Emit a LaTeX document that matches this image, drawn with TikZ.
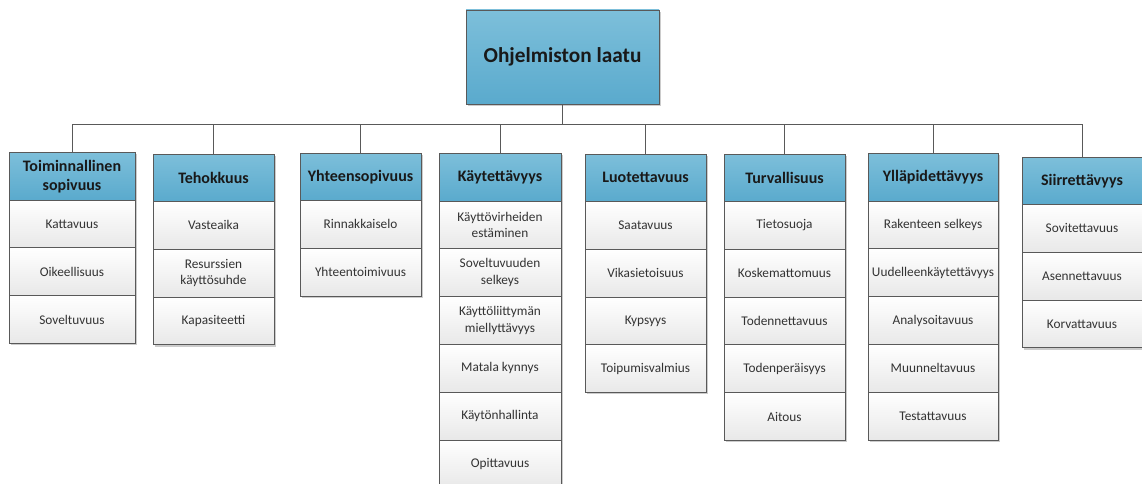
\documentclass[tikz,border=0pt]{standalone}
\usepackage{fontspec}
\setmainfont{Carlito}
\usetikzlibrary{shadows}

\definecolor{edge}{HTML}{595959}
\definecolor{headtop}{HTML}{7DBFDA}
\definecolor{headbot}{HTML}{5AAACD}
\definecolor{cellbot}{HTML}{E8E8E8}
\definecolor{celltext}{HTML}{333333}

\tikzset{
  box/.style={draw=edge, line width=0.9pt, inner sep=1pt, outer sep=0pt, align=center, anchor=north,
    general shadow={fill=black!20, shadow xshift=1.6pt, shadow yshift=-1.6pt}},
  headbox/.style={box, top color=headtop, bottom color=headbot, minimum height=47.5pt,
    font=\bfseries\fontsize{16}{19}\selectfont, text=black!90},
  cellbox/.style={box, top color=white, bottom color=cellbot, minimum height=47.8pt,
    font=\fontsize{13.3}{16.5}\selectfont, text=celltext},
  titlebox/.style={box, top color=headtop, bottom color=headbot, minimum width=193pt,
    minimum height=94pt, font=\bfseries\fontsize{21.3}{25}\selectfont, text=black!90},
  link/.style={draw=edge, line width=1pt}
}

% one characteristic: header box with its sub-characteristics stacked below
\newcommand\qualitycolumn[6]{%
  \node[headbox, minimum width=#4] (#1-0) at (#2,#3) {#5};
  \foreach \t [count=\i, remember=\i as \j (initially 0)] in {#6} {
    \node[cellbox, minimum width=#4] (#1-\i) at (#1-\j.south) {\t};
  }%
}

\begin{document}
\begin{tikzpicture}[x=1pt, y=-1pt]
  \useasboundingbox (0,0) rectangle (1142,484);

  \node[titlebox] (root) at (562.5,10) {Ohjelmiston laatu};

  \qualitycolumn{func}{72}{152.5}{126pt}{Toiminnallinen\\sopivuus}
    {Kattavuus, Oikeellisuus, Soveltuvuus}
  \qualitycolumn{perf}{213.5}{154}{121pt}{Tehokkuus}
    {Vasteaika, {Resurssien\\käyttösuhde}, Kapasiteetti}
  \qualitycolumn{comp}{360.5}{153}{121pt}{Yhteensopivuus}
    {Rinnakkaiselo, Yhteentoimivuus}
  \qualitycolumn{usab}{500}{153.5}{122pt}{Käytettävyys}
    {{Käyttövirheiden\\estäminen}, {Soveltuvuuden\\selkeys}, {Käyttöliittymän\\miellyttävyys},
     Matala kynnys, Käytönhallinta, Opittavuus}
  \qualitycolumn{reli}{645.5}{154}{121pt}{Luotettavuus}
    {Saatavuus, Vikasietoisuus, Kypsyys, Toipumisvalmius}
  \qualitycolumn{secu}{784.5}{154}{121pt}{Turvallisuus}
    {Tietosuoja, Koskemattomuus, Todennettavuus, Todenperäisyys, Aitous}
  \qualitycolumn{main}{933}{153.5}{130pt}{Ylläpidettävyys}
    {Rakenteen selkeys, Uudelleenkäytettävyys, Analysoitavuus, Muunneltavuus, Testattavuus}
  \qualitycolumn{port}{1082}{157}{120pt}{Siirrettävyys}
    {Sovitettavuus, Asennettavuus, Korvattavuus}

  % connectors: root down to the bus, bus down to each header
  \coordinate (bus) at (0,124.5);
  \draw[link] (root.south) -- (root.south |- bus);
  \draw[link] (func-0.north |- bus) -- (port-0.north |- bus);
  \foreach \c in {func,perf,comp,usab,reli,secu,main,port}
    \draw[link] (\c-0.north) -- (\c-0.north |- bus);
\end{tikzpicture}
\end{document}
